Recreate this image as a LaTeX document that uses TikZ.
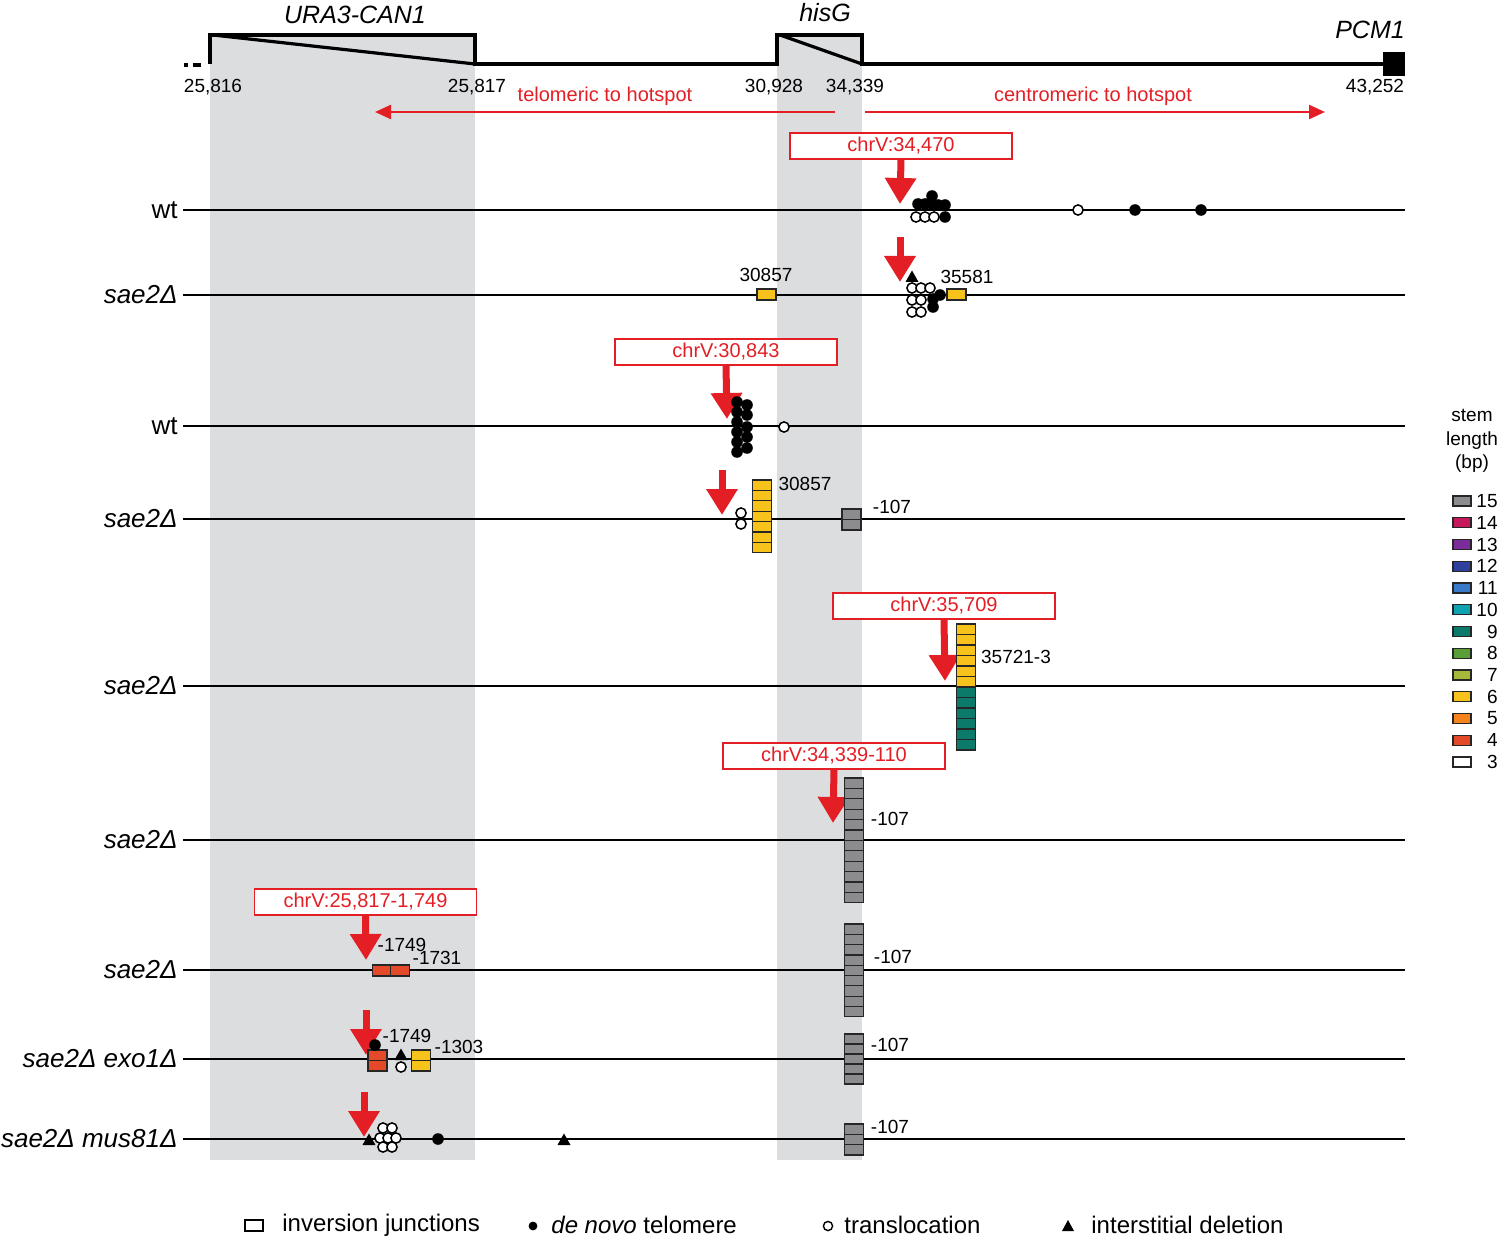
\documentclass[tikz,border=0pt]{standalone}
\usepackage{fontspec}
\setmainfont{Liberation Sans}
\usetikzlibrary{arrows.meta,positioning}

\definecolor{hotred}{RGB}{227,30,36}
\definecolor{band}{RGB}{220,221,223}
\definecolor{s15}{RGB}{140,140,142}
\definecolor{s14}{RGB}{200,24,92}
\definecolor{s13}{RGB}{123,44,154}
\definecolor{s12}{RGB}{46,63,156}
\definecolor{s11}{RGB}{58,120,200}
\definecolor{s10}{RGB}{15,163,177}
\definecolor{s9}{RGB}{11,122,107}
\definecolor{s8}{RGB}{90,158,58}
\definecolor{s7}{RGB}{168,184,58}
\definecolor{s6}{RGB}{247,194,28}
\definecolor{s5}{RGB}{245,132,31}
\definecolor{s4}{RGB}{228,73,42}
\definecolor{s3}{RGB}{255,255,255}

% stack of stem boxes: x centre, y top, count, colour, box height
\newcommand{\stemstack}[5]{%
  \foreach \k in {1,...,#3}
    \draw[stem,fill=#4] ({#1-9.5},{#2+(\k-1)*#5}) rectangle ++(19,#5);}
\newcommand{\fulldot}[2]{\fill (#1,#2) circle[radius=2.9pt];}
\newcommand{\opendot}[2]{\draw[line width=0.75pt,fill=white] (#1,#2) circle[radius=2.55pt];}
\newcommand{\deltri}[2]{\fill (#1-6.5,#2+5) -- (#1+6.5,#2+5) -- (#1,#2-6.5) -- cycle;}

\begin{document}
\begin{tikzpicture}[x=0.5pt,y=-0.5pt,
    strain/.style={anchor=east,inner sep=2.5pt,font=\fontsize{13}{15}\selectfont},
    row/.style={line width=0.75pt},
    gene/.style={line width=1.6pt},
    coordlab/.style={font=\fontsize{9.5}{11}\selectfont,inner sep=1pt},
    lab/.style={font=\fontsize{9.5}{11}\selectfont,inner sep=1pt},
    hotbox/.style={draw=hotred,line width=0.8pt,text=hotred,fill=white,
        minimum width=111pt,minimum height=13pt,inner sep=1pt,
        font=\fontsize{10}{12}\selectfont},
    bigarrow/.style={draw=hotred,line width=3.5pt,-{Triangle[width=15pt,length=13pt]}},
    thinarrow/.style={draw=hotred,line width=1.2pt,-{Triangle[width=7pt,length=8pt]}},
    stem/.style={draw=black!85,line width=0.6pt},
    legtext/.style={font=\fontsize{12}{14}\selectfont,inner sep=1pt,anchor=west}
  ]
\useasboundingbox (0,0) rectangle (1500,1241);

\fill[band] (210,35) rectangle (475,1160);
\fill[band] (777,35) rectangle (862,1160);

% chromosome map
\draw[gene] (210,64) -- (210,35) -- (475,35) -- (475,64) -- (777,64) -- (777,35) -- (862,35) -- (862,64) -- (1390,64);
\draw[gene] (213,35) -- (475,64);
\draw[gene] (780,35) -- (862,64);
\draw[gene,dash pattern=on 2pt off 2.5pt on 4pt off 9pt] (184,65) -- (206,65);
\fill (1383,52) rectangle (1405,76);

\node (ura)  at (355,15) {\fontsize{12.5}{14}\selectfont\textit{URA3-CAN1}};
\node (hisg) at (825,13) {\fontsize{12.5}{14}\selectfont\textit{hisG}};
\node (pcm)  at (1370,30) {\fontsize{12.5}{14}\selectfont\textit{PCM1}};

\node (p1) [coordlab] at (213,87)  {25,816};
\node (p2) [coordlab] at (477,87)  {25,817};
\node (p3) [coordlab] at (774,87)  {30,928};
\node (p4) [coordlab] at (855,87)  {34,339};
\node (p5) [coordlab] at (1375,87) {43,252};

\coordinate (tel0) at (835,112);
\coordinate (tel1) at (375,112);
\coordinate (cen0) at (865,112);
\coordinate (cen1) at (1325,112);
\draw[thinarrow] (tel0) -- (tel1);
\draw[thinarrow] (cen0) -- (cen1);
\node (telo) [text=hotred,font=\fontsize{10}{12}\selectfont] at (605,96)  {telomeric to hotspot};
\node (cent) [text=hotred,font=\fontsize{10}{12}\selectfont] at (1093,96) {centromeric to hotspot};

% strains
\foreach \n/\y/\t in {r1/210/wt, r2/295/\textit{sae2Δ}, r3/426/wt, r4/519/\textit{sae2Δ},
    r5/686/\textit{sae2Δ}, r6/840/\textit{sae2Δ}, r7/970/\textit{sae2Δ},
    r8/1059/\textit{sae2Δ exo1Δ}, r9/1139/\textit{sae2Δ mus81Δ}} {
  \node (\n) [strain] at (183,\y) {\t};
  \coordinate (\n e) at (1405,\y);
  \draw[row] (\n.east) -- (\n e);
}

% hotspots
\node (h1) [hotbox] at (901,146)  {chrV:34,470};
\node (h3) [hotbox] at (726,352)  {chrV:30,843};
\node (h5) [hotbox] at (944,606)  {chrV:35,709};
\node (h6) [hotbox] at (834,756)  {chrV:34,339-110};
\node (h7) [hotbox] at (365.5,902) {chrV:25,817-1,749};

\coordinate (a1) at (900,204);
\coordinate (a2s) at (900,237);  \coordinate (a2) at (900,282);
\coordinate (a3) at (727,419);
\coordinate (a4s) at (722,470);  \coordinate (a4) at (722,515);
\coordinate (a5) at (945,681);
\coordinate (a6) at (833,823);
\coordinate (a7) at (366,960);
\coordinate (a8s) at (366,1010); \coordinate (a8) at (366,1055);
\coordinate (a9s) at (364,1092); \coordinate (a9) at (364,1137);

\draw[bigarrow] (h1.south) -- (a1);
\draw[bigarrow] (a2s) -- (a2);
\draw[bigarrow] (h3.south) -- (a3);
\draw[bigarrow] (a4s) -- (a4);
\draw[bigarrow] (h5.south) -- (a5);
\draw[bigarrow] (h6.south) -- (a6);
\draw[bigarrow] (h7.south) -- (a7);
\draw[bigarrow] (a8s) -- (a8);
\draw[bigarrow] (a9s) -- (a9);

% row 1
\foreach \x/\y in {918/204,925/204,932/196,932/204,938/205,945/205,945/217} {\fulldot{\x}{\y}}
\foreach \x/\y in {916/217,925/217,934/217,1078/210} {\opendot{\x}{\y}}
\fulldot{1135}{210} \fulldot{1201}{210}

% row 2
\stemstack{766.5}{289}{1}{s6}{11}
\stemstack{956.5}{289}{1}{s6}{11}
\deltri{912}{277}
\foreach \x/\y in {912/288,921/288,930/288,912/300,921/300,912/312,921/312} {\opendot{\x}{\y}}
\fulldot{933}{299} \fulldot{940}{295} \fulldot{933}{307}
\node (l2a) [lab] at (766,275) {30857};
\node (l2b) [lab] at (967,277) {35581};

% row 3
\foreach \y in {402,412,422,432,442,452} {\fulldot{737}{\y}}
\foreach \y in {405,415,427,437,448} {\fulldot{747}{\y}}
\opendot{784}{427}

% row 4
\opendot{741}{513} \opendot{741}{524}
\stemstack{762}{480}{7}{s6}{10.4}
\stemstack{851.5}{509}{2}{s15}{10.5}
\node (l4a) [lab] at (805,484) {30857};
\node (l4b) [lab] at (892,507) {-107};

% row 5
\stemstack{966}{624}{6}{s6}{10.5}
\stemstack{966}{687}{6}{s9}{10.5}
\node (l5) [lab] at (1016,657) {35721-3};

% row 6
\stemstack{854}{778}{12}{s15}{10.4}
\node (l6) [lab] at (890,819) {-107};

% row 7
\stemstack{382}{965}{1}{s4}{11}
\stemstack{400}{965}{1}{s4}{11}
\stemstack{854}{924}{9}{s15}{10.3}
\node (l7a) [lab] at (402,945) {-1749};
\node (l7b) [lab] at (437,958) {-1731};
\node (l7c) [lab] at (893,957) {-107};

% row 8
\stemstack{377.5}{1050}{2}{s4}{10.5}
\stemstack{421}{1050}{2}{s6}{10.5}
\fulldot{375}{1045}
\deltri{401}{1055}
\opendot{401}{1067}
\stemstack{854}{1034}{5}{s15}{10}
\node (l8a) [lab] at (407,1036) {-1749};
\node (l8b) [lab] at (459,1047) {-1303};
\node (l8c) [lab] at (890,1045) {-107};

% row 9
\deltri{369}{1140}
\foreach \x/\y in {383/1128,392/1128,380/1138,388/1138,396/1138,383/1147,392/1147} {\opendot{\x}{\y}}
\fulldot{438}{1139}
\deltri{564}{1140}
\stemstack{854}{1124}{3}{s15}{10.3}
\node (l9) [lab] at (890,1127) {-107};

% stem length key
\node (stemkey) [align=center,font=\fontsize{9.5}{11.8}\selectfont] at (1472,441) {stem\\length\\(bp)};
\foreach \v/\c [count=\i from 0] in {15/s15,14/s14,13/s13,12/s12,11/s11,10/s10,9/s9,8/s8,7/s7,6/s6,5/s5,4/s4,3/s3} {
  \draw[stem,fill=\c] (1453,{501+\i*21.75-5}) rectangle (1471,{501+\i*21.75+5});
  \node (key\v) [lab,anchor=east] at (1500,{501+\i*21.75}) {\v};
}

% event key
\draw[line width=0.8pt] (245,1220) rectangle (263,1231);
\node (k1) [legtext] at (280,1225) {inversion junctions};
\fill (533,1226) circle[radius=2.2pt];
\node (k2) [legtext] at (549,1225) {\textit{de novo} telomere};
\draw[line width=0.7pt] (828,1226) circle[radius=2.3pt];
\node (k3) [legtext] at (842,1225) {translocation};
\fill (1062,1231) -- (1074,1231) -- (1068,1220) -- cycle;
\node (k4) [legtext] at (1089,1225) {interstitial deletion};
\end{tikzpicture}
\end{document}
